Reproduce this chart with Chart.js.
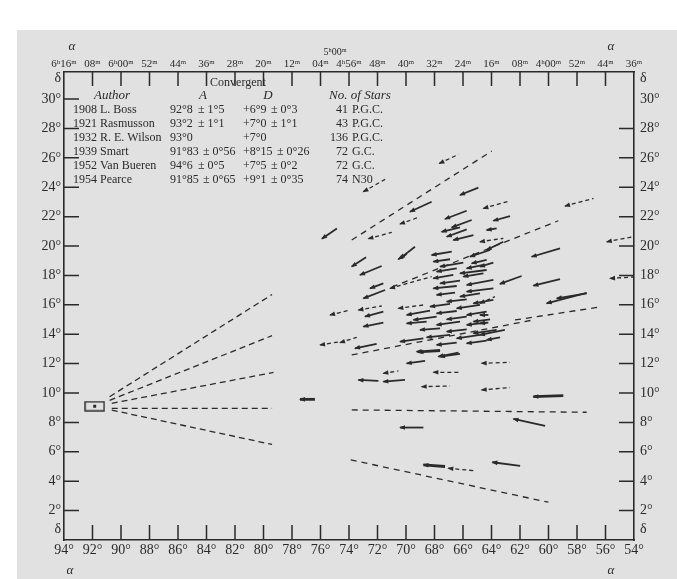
<!DOCTYPE html>
<html>
<head>
<meta charset="utf-8">
<title>Hyades convergent point</title>
<script src="https://cdn.jsdelivr.net/npm/chart.js@4.4.1/dist/chart.umd.min.js"></script>
<style>
  html, body { margin: 0; padding: 0; background: #fff; }
  #wrap { width: 677px; height: 579px; }
</style>
</head>
<body>
<div id="wrap"><canvas id="myChart" width="677" height="579"></canvas></div>
<script>
// Axis labels: right ascension in degrees (bottom) and in hours/minutes (top)
const raHourLabels = ['6ʰ16ᵐ', '08ᵐ', '6ʰ00ᵐ', '52ᵐ', '44ᵐ', '36ᵐ', '28ᵐ', '20ᵐ', '12ᵐ', '04ᵐ',
  '4ʰ56ᵐ', '48ᵐ', '40ᵐ', '32ᵐ', '24ᵐ', '16ᵐ', '08ᵐ', '4ʰ00ᵐ', '52ᵐ', '44ᵐ', '36ᵐ'];
// declination ticks, the odd ones carry the delta symbol
const decTicks = [0.7, 2, 4, 6, 8, 10, 12, 14, 16, 18, 20, 22, 24, 26, 28, 30, 31.4];

// Table of published convergent points
const years = ['1908', '1921', '1932', '1939', '1952', '1954'];
const authors = ['L. Boss', 'Rasmusson', 'R. E. Wilson', 'Smart', 'Van Bueren', 'Pearce'];
const convA = ['92.8', '93.2', '93.0', '91.83', '94.6', '91.85'];
const convAErr = ['1.5', '1.1', '', '0.56', '0.5', '0.65'];
const convD = ['6.9', '7.0', '7.0', '8.15', '7.5', '9.1'];
const convDErr = ['0.3', '1.1', '', '0.26', '0.2', '0.35'];
const starCounts = ['41', '43', '136', '72', '72', '74'];
const catalogues = ['P.G.C.', 'P.G.C.', 'P.G.C.', 'G.C.', 'G.C.', 'N30'];

// Proper-motion arrows [ra head, dec head, ra tail, dec tail] in degrees
const solidArrows = [
  [69.72, 22.33, 68.20, 23.01], [66.21, 23.47, 64.92, 23.97], [67.26, 21.84, 65.74, 22.40],
  [63.87, 21.72, 62.70, 22.04], [61.18, 19.27, 59.19, 19.84], [61.06, 17.30, 59.19, 17.75],
  [60.13, 16.10, 57.32, 16.82], [59.42, 16.44, 57.32, 16.78], [75.90, 20.50, 74.85, 21.20],
  [66.79, 21.27, 65.39, 21.77], [67.50, 20.97, 66.21, 21.27], [67.14, 20.63, 65.74, 21.13],
  [66.68, 20.41, 65.27, 20.75], [64.34, 21.09, 63.64, 21.20], [70.42, 19.16, 69.37, 19.95],
  [64.34, 19.73, 63.17, 20.29], [63.41, 17.42, 61.89, 17.96], [64.81, 18.60, 63.87, 18.87],
  [64.81, 13.95, 63.06, 14.29], [64.81, 15.31, 64.22, 15.31], [64.81, 14.74, 64.22, 14.79],
  [73.81, 18.60, 72.80, 19.23], [70.54, 19.10, 69.95, 19.46], [73.23, 18.03, 71.71, 18.64],
  [72.52, 17.12, 71.59, 17.46], [72.99, 16.44, 71.47, 17.01], [72.88, 15.20, 71.59, 15.53],
  [72.99, 14.52, 71.59, 14.79], [73.58, 13.04, 72.06, 13.34], [69.13, 12.77, 67.61, 12.86],
  [67.73, 12.48, 66.32, 12.75], [69.95, 12.02, 68.66, 12.18], [73.34, 10.89, 71.94, 10.82],
  [71.59, 10.77, 70.07, 10.89], [62.46, 8.24, 60.24, 7.76], [70.42, 7.65, 68.78, 7.65],
  [63.94, 5.29, 61.99, 5.04],
  // the dense centre of the cluster
  [68.20, 19.39, 66.79, 19.62], [65.51, 19.28, 64.10, 19.73], [68.08, 18.94, 66.91, 19.10],
  [65.39, 18.82, 64.34, 19.05], [67.61, 18.60, 65.98, 18.87], [65.74, 18.48, 64.57, 18.71],
  [67.85, 18.26, 66.44, 18.48], [66.21, 18.14, 64.34, 18.37], [68.08, 17.80, 66.68, 18.03],
  [65.98, 17.92, 64.57, 18.14], [67.61, 17.46, 66.21, 17.64], [65.74, 17.35, 63.87, 17.69],
  [68.08, 17.12, 66.44, 17.28], [65.74, 16.90, 63.87, 17.12], [67.85, 16.67, 66.56, 16.83],
  [66.21, 16.56, 64.81, 16.78], [67.14, 16.22, 65.74, 16.37], [65.27, 16.10, 63.87, 16.33],
  [68.31, 15.88, 66.91, 16.06], [66.44, 15.76, 64.81, 15.99], [69.95, 15.31, 68.31, 15.60],
  [67.85, 15.42, 66.44, 15.58], [65.74, 15.31, 64.34, 15.53], [69.48, 14.97, 67.85, 15.19],
  [67.14, 15.01, 65.74, 15.19], [65.27, 14.85, 64.10, 15.01], [69.95, 14.74, 68.55, 14.85],
  [67.85, 14.63, 66.21, 14.85], [65.74, 14.63, 64.34, 14.79], [69.02, 14.29, 67.61, 14.40],
  [67.14, 14.17, 65.74, 14.33], [65.27, 14.06, 63.64, 14.29], [68.55, 13.79, 66.91, 13.95],
  [66.44, 13.72, 64.81, 13.95], [64.34, 13.61, 63.40, 13.79], [70.42, 13.49, 68.78, 13.72],
  [67.85, 13.27, 66.44, 13.43], [65.74, 13.38, 64.34, 13.56], [69.25, 12.81, 67.61, 12.93],
  [67.61, 12.47, 66.21, 12.66]
];
const thickArrows = [
  [61.06, 9.75, 58.96, 9.82], [68.78, 5.11, 67.26, 5.00], [77.44, 9.57, 76.39, 9.57]
];
const dashedArrows = [
  [67.66, 25.62, 66.32, 26.23], [72.99, 23.70, 71.35, 24.60], [64.57, 22.56, 62.70, 23.08],
  [70.42, 21.50, 69.13, 21.95], [72.64, 20.50, 71.00, 20.93], [58.84, 22.72, 56.85, 23.24],
  [55.91, 20.29, 53.81, 20.68], [55.68, 17.80, 53.69, 17.91], [70.54, 15.76, 68.78, 15.99],
  [75.33, 15.31, 73.93, 15.65], [73.34, 15.65, 71.70, 15.92], [74.63, 13.43, 73.46, 13.79],
  [76.03, 13.27, 74.63, 13.49], [64.69, 12.02, 62.70, 12.09], [71.59, 11.34, 70.53, 11.50],
  [68.08, 11.41, 66.21, 11.41], [68.90, 10.43, 66.91, 10.48], [64.69, 10.21, 62.70, 10.37],
  [67.03, 4.88, 65.27, 4.72], [64.81, 16.10, 63.76, 16.56], [71.12, 17.12, 68.20, 17.92],
  [64.81, 20.29, 63.17, 20.52]
];
// long dashed paths of single stars
const guideLines = [
  [73.81, 20.41, 63.98, 26.46], [71.00, 17.20, 59.31, 21.72], [62.35, 14.97, 56.27, 15.87],
  [73.81, 12.59, 61.07, 14.97], [73.81, 8.85, 57.32, 8.69], [73.88, 5.45, 60.01, 2.57]
];
// dashed fan drawn out of the convergent
const fanLines = [
  [90.80, 9.75, 79.40, 16.70], [90.80, 9.50, 79.40, 13.90], [90.65, 9.30, 79.30, 11.40],
  [90.65, 8.96, 79.40, 8.96], [90.65, 8.84, 79.40, 6.50]
];

const ink = '#2a2a2a';
const paper = '#e1e1e1';
const serif = '"Liberation Serif", "DejaVu Serif", serif';

// small framed box marking the convergent point
const boxMark = document.createElement('canvas');
boxMark.width = 21;
boxMark.height = 11;
(() => {
  const c = boxMark.getContext('2d');
  c.strokeStyle = ink;
  c.lineWidth = 1.4;
  c.strokeRect(1, 1, 19, 9);
  c.fillStyle = ink;
  c.fillRect(9, 4, 3, 3);
})();

const seg = (s) => [{ x: s[0], y: s[1] }, { x: s[2], y: s[3] }];
const datasets = [];
solidArrows.forEach((s) => datasets.push({ data: seg(s), borderWidth: 1.8, head: true }));
thickArrows.forEach((s) => datasets.push({ data: seg(s), borderWidth: 2.8, head: true }));
dashedArrows.forEach((s) => datasets.push({ data: seg(s), borderWidth: 1.3, borderDash: [4, 3], head: true }));
guideLines.forEach((s) => datasets.push({ data: seg(s), borderWidth: 1.3, borderDash: [6, 5] }));
fanLines.forEach((s) => datasets.push({ data: seg(s), borderWidth: 1.3, borderDash: [6, 4] }));
datasets.forEach((d) => {
  d.showLine = true;
  d.pointRadius = 0;
  d.borderColor = ink;
});
datasets.push({
  data: [{ x: Number(convA[5]), y: Number(convD[5]) }],
  pointStyle: boxMark,
  pointRadius: 10,
  showLine: false
});

const fmtDeg = (v) => v.replace('.', '°');

const paperPlugin = {
  id: 'paper',
  beforeDraw(chart) {
    const ctx = chart.ctx;
    ctx.save();
    ctx.fillStyle = paper;
    ctx.fillRect(17, 30, chart.width - 17, chart.height - 30);
    ctx.restore();
  }
};

// ticks pointing into the plot
const innerTicks = {
  id: 'innerTicks',
  afterDraw(chart) {
    const { ctx, chartArea: a, scales } = chart;
    ctx.save();
    ctx.strokeStyle = ink;
    ctx.lineWidth = 1.5;
    ctx.beginPath();
    scales.x.ticks.forEach((t) => {
      if (t.value <= 54 || t.value >= 94) return;
      const px = scales.x.getPixelForValue(t.value);
      ctx.moveTo(px, a.bottom);
      ctx.lineTo(px, a.bottom - 15);
      ctx.moveTo(px, a.top);
      ctx.lineTo(px, a.top + 14);
    });
    scales.y.ticks.forEach((t) => {
      if (t.value % 2 !== 0 || t.value <= 0) return;
      const py = scales.y.getPixelForValue(t.value);
      ctx.moveTo(a.left, py);
      ctx.lineTo(a.left + 15, py);
      if (t.value < 30) {
        ctx.moveTo(a.right, py);
        ctx.lineTo(a.right - 15, py);
      }
    });
    ctx.stroke();
    ctx.restore();
  }
};

const arrowHeads = {
  id: 'arrowHeads',
  afterDatasetsDraw(chart) {
    const ctx = chart.ctx;
    ctx.save();
    ctx.fillStyle = ink;
    chart.data.datasets.forEach((ds, i) => {
      if (!ds.head) return;
      const pts = chart.getDatasetMeta(i).data;
      const a = pts[0];
      const b = pts[1];
      const ang = Math.atan2(a.y - b.y, a.x - b.x);
      ctx.save();
      ctx.translate(a.x, a.y);
      ctx.rotate(ang);
      ctx.beginPath();
      ctx.moveTo(1, 0);
      ctx.lineTo(-5, -2.3);
      ctx.lineTo(-5, 2.3);
      ctx.closePath();
      ctx.fill();
      ctx.restore();
    });
    ctx.restore();
  }
};

const tablePlugin = {
  id: 'table',
  afterDraw(chart) {
    const ctx = chart.ctx;
    ctx.save();
    ctx.fillStyle = ink;
    ctx.textBaseline = 'middle';
    ctx.textAlign = 'center';
    ctx.font = '12px ' + serif;
    ctx.fillText('Convergent', 238, 83);
    ctx.font = 'italic 13px ' + serif;
    ctx.fillText('Author', 112, 96);
    ctx.fillText('A', 203, 96);
    ctx.fillText('D', 268, 96);
    ctx.fillText('No. of Stars', 360, 96);
    ctx.font = '12px ' + serif;
    authors.forEach((name, i) => {
      const y = 110 + i * 14;
      ctx.textAlign = 'left';
      ctx.fillText(years[i] + ' ' + name, 73, y);
      ctx.fillText(fmtDeg(convA[i]), 170, y);
      if (convAErr[i]) ctx.fillText('± ' + fmtDeg(convAErr[i]), convA[i].length > 4 ? 203 : 198, y);
      ctx.fillText('+' + fmtDeg(convD[i]), 243, y);
      if (convDErr[i]) ctx.fillText('± ' + fmtDeg(convDErr[i]), convD[i].length > 3 ? 277 : 271, y);
      ctx.textAlign = 'right';
      ctx.fillText(starCounts[i], 348, y);
      ctx.textAlign = 'left';
      ctx.fillText(catalogues[i], 352, y);
    });
    ctx.textAlign = 'center';
    ctx.font = 'italic 13px ' + serif;
    ctx.fillText('α', 72, 47);
    ctx.fillText('α', 611, 47);
    ctx.fillText('α', 70, 571);
    ctx.fillText('α', 611, 571);
    ctx.font = '10px ' + serif;
    ctx.fillText('5ʰ00ᵐ', 335, 52);
    ctx.restore();
  }
};

const tickFont = { family: serif, size: 14 };

const raAxis = (position, labels) => ({
  type: 'linear',
  position: position,
  reverse: true,
  min: 54,
  max: 94,
  grid: { display: false, drawTicks: false },
  border: { display: true, color: ink, width: 1.6 },
  ticks: {
    stepSize: 2,
    autoSkip: false,
    maxRotation: 0,
    minRotation: 0,
    color: ink,
    padding: position === 'top' ? 1 : 2,
    font: position === 'top' ? { family: serif, size: 11 } : tickFont,
    callback: labels
  },
  afterFit: (scale) => {
    scale.height = position === 'top' ? 72 : 39;
  }
});

const decAxis = (position) => ({
  type: 'linear',
  position: position,
  min: 0,
  max: 31.84,
  grid: { display: false, drawTicks: false },
  border: { display: true, color: ink, width: 1.6 },
  afterBuildTicks: (scale) => {
    scale.ticks = decTicks.map((v) => ({ value: v }));
  },
  ticks: {
    color: ink,
    padding: position === 'left' ? 3 : 6,
    font: tickFont,
    callback: (v) => (Number.isInteger(v) ? v + '°' : 'δ')
  },
  afterFit: (scale) => {
    scale.width = position === 'left' ? 64 : 43;
  }
});

const ctx = document.getElementById('myChart').getContext('2d');
window.myChart = new Chart(ctx, {
  type: 'scatter',
  data: { datasets: datasets },
  options: {
    responsive: false,
    animation: false,
    events: [],
    layout: { padding: 0 },
    plugins: { legend: { display: false }, tooltip: { enabled: false } },
    scales: {
      x: raAxis('bottom', (v) => v + '°'),
      x2: raAxis('top', (v) => raHourLabels[Math.round((94 - v) / 2)]),
      y: decAxis('left'),
      y2: decAxis('right')
    }
  },
  plugins: [paperPlugin, arrowHeads, innerTicks, tablePlugin]
});
</script>
</body>
</html>
